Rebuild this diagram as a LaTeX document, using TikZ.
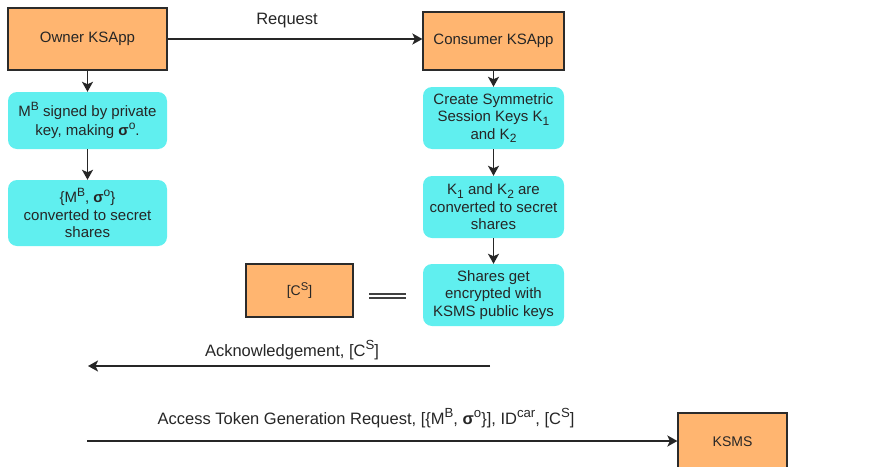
\documentclass[tikz,border=0pt]{standalone}
\usepackage{fontspec}
\usepackage{graphicx}
\setmainfont{Liberation Sans}
\usetikzlibrary{arrows.meta}
\definecolor{apporange}{HTML}{FFB570}
\definecolor{stepcyan}{HTML}{60EFEF}
\definecolor{edgegray}{HTML}{2B2B2B}
\newcommand{\sig}{{\bfseries σ}}
\newcommand{\up}[1]{\raisebox{0.4em}{\scalebox{0.8}{#1}}}
\newcommand{\dn}[1]{\raisebox{-0.22em}{\scalebox{0.8}{#1}}}
\tikzset{
  x=1pt, y=-1pt,
  every node/.style={font=\fontsize{15}{17.5}\selectfont, text=black!85},
  party/.style={draw=edgegray, line width=1.2pt, fill=apporange, inner sep=0pt, align=center},
  stepbox/.style={fill=stepcyan, rounded corners=9pt, inner sep=0pt, align=center,
    minimum width=159pt, minimum height=62pt},
  flow/.style={line width=1.9pt, draw=black!85,
    -{Stealth[length=10pt,width=11pt,inset=2.5pt]}},
  msg/.style={font=\fontsize{16.5}{19}\selectfont, inner sep=0pt, anchor=center},
}
\begin{document}
\begin{tikzpicture}
\useasboundingbox (0,0) rectangle (889,466);
\clip (0,0) rectangle (889,466);

% parties
\node[party, minimum width=159pt, minimum height=62pt] (owner) at (87.5,39) {Owner KSApp};
\node[party, minimum width=141pt, minimum height=58pt] (consumer) at (493.5,41) {Consumer KSApp};
\node[party, minimum width=107pt, minimum height=53pt, font=\fontsize{14}{16}\selectfont] (cs) at (299.5,290.5) {[C\up{S}]};
\node[party, minimum width=109pt, minimum height=58pt, font=\fontsize{14}{16}\selectfont] (ksms) at (732.5,442) {KSMS};

% owner side steps
\node[stepbox, minimum height=57pt] (o1) at (87.5,120.5) {M\up{B} signed by private\\[1pt]key, making \sig\up{o}.};
\node[stepbox, minimum height=66pt] (o2) at (87.5,213) {\{M\up{B}, \sig\up{o}\}\\converted to secret\\shares};

% consumer side steps
\node[stepbox, minimum width=141pt] (c1) at (493.5,118) {Create Symmetric\\Session Keys K\dn{1}\\and K\dn{2}};
\node[stepbox, minimum width=141pt] (c2) at (493.5,207) {K\dn{1} and K\dn{2} are\\converted to secret\\shares};
\node[stepbox, minimum width=141pt] (c3) at (493.5,295) {Shares get\\encrypted with\\KSMS public keys};

% vertical flow
\draw[flow] (owner) -- (o1);
\draw[flow] (o1) -- (o2);
\draw[flow] (consumer) -- (c1);
\draw[flow] (c1) -- (c2);
\draw[flow] (c2) -- (c3);

% request to the consumer
\draw[flow] (owner.east) -- (owner.east -| consumer.west);
\node[msg] (reqlbl) at (287,21) {Request};

% equivalence of the encrypted shares and C^S
\coordinate (eqa) at (369,296);
\coordinate (eqb) at (406,296);
\draw[double=white, double distance=2.2pt, line width=1.9pt, draw=black!75] (eqa) -- (eqb);

% acknowledgement back to the owner
\coordinate (ackfrom) at (490,366);
\coordinate (ackto) at (88,366);
\draw[flow] (ackfrom) -- (ackto);
\node[msg] (acklbl) at (292,350) {Acknowledgement, [C\up{S}]};

% token request to the KSMS
\coordinate (tokfrom) at (87,441);
\draw[flow] (tokfrom) -- (tokfrom -| ksms.west);
\node[msg] (toklbl) at (366,418) {Access Token Generation Request, [\{M\up{B}, \sig\up{o}\}], ID\up{car}, [C\up{S}]};
\end{tikzpicture}
\end{document}
